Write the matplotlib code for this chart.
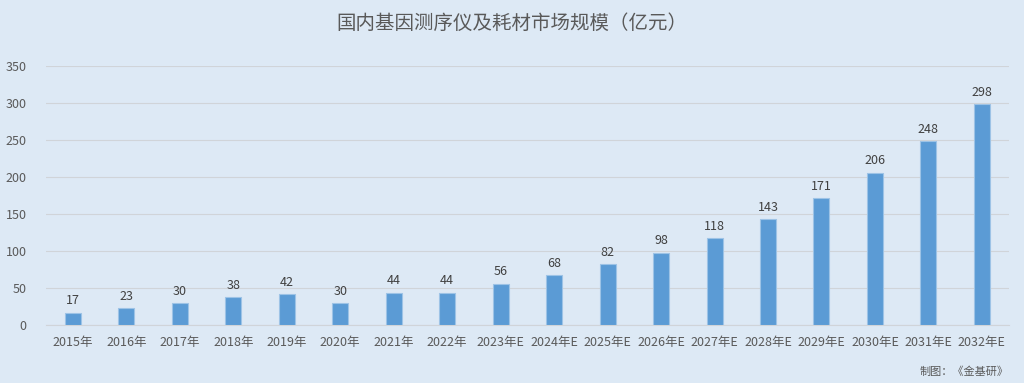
import matplotlib.pyplot as plt

plt.rcParams['font.family'] = ['Noto Sans CJK SC', 'DejaVu Sans']

years = ['2015年', '2016年', '2017年', '2018年', '2019年', '2020年', '2021年', '2022年',
         '2023年E', '2024年E', '2025年E', '2026年E', '2027年E', '2028年E', '2029年E',
         '2030年E', '2031年E', '2032年E']
values = [17, 23, 30, 38, 42, 30, 44, 44, 56, 68, 82, 98, 118, 143, 171, 206, 248, 298]

bg = '#dde9f5'
fig = plt.figure(figsize=(10.24, 3.83), dpi=100)
fig.patch.set_facecolor(bg)
ax = fig.add_axes([0.045, 0.151, 0.94, 0.677])
ax.set_facecolor(bg)

x = range(len(years))
ax.bar(x, values, width=0.3, color='#5b9bd5', edgecolor='#9dc3e6', linewidth=0.8, zorder=3)
for i, v in enumerate(values):
    ax.text(i, v + 7, str(v), ha='center', va='bottom', fontsize=9, color='#404040')

ax.set_xlim(-0.5, len(years) - 0.5)
ax.set_ylim(0, 350)
ax.set_yticks(range(0, 351, 50))
ax.set_xticks(list(x))
ax.set_xticklabels(years)
ax.tick_params(axis='both', length=0, labelsize=9, colors='#595959')
ax.tick_params(axis='x', pad=8)
ax.tick_params(axis='y', pad=14)
ax.grid(axis='y', color='#d0d4d9', linewidth=0.8, zorder=0)
for s in ['top', 'right', 'left']:
    ax.spines[s].set_visible(False)
ax.spines['bottom'].set_color('#d0d4d9')

fig.text(0.5, 0.94, '国内基因测序仪及耗材市场规模（亿元）', ha='center', va='center',
         fontsize=14, color='#595959')
fig.text(0.985, 0.03, '制图：《金基研》', ha='right', va='center', fontsize=8, color='#595959')

fig.savefig('out.png', dpi=100, facecolor=bg)
